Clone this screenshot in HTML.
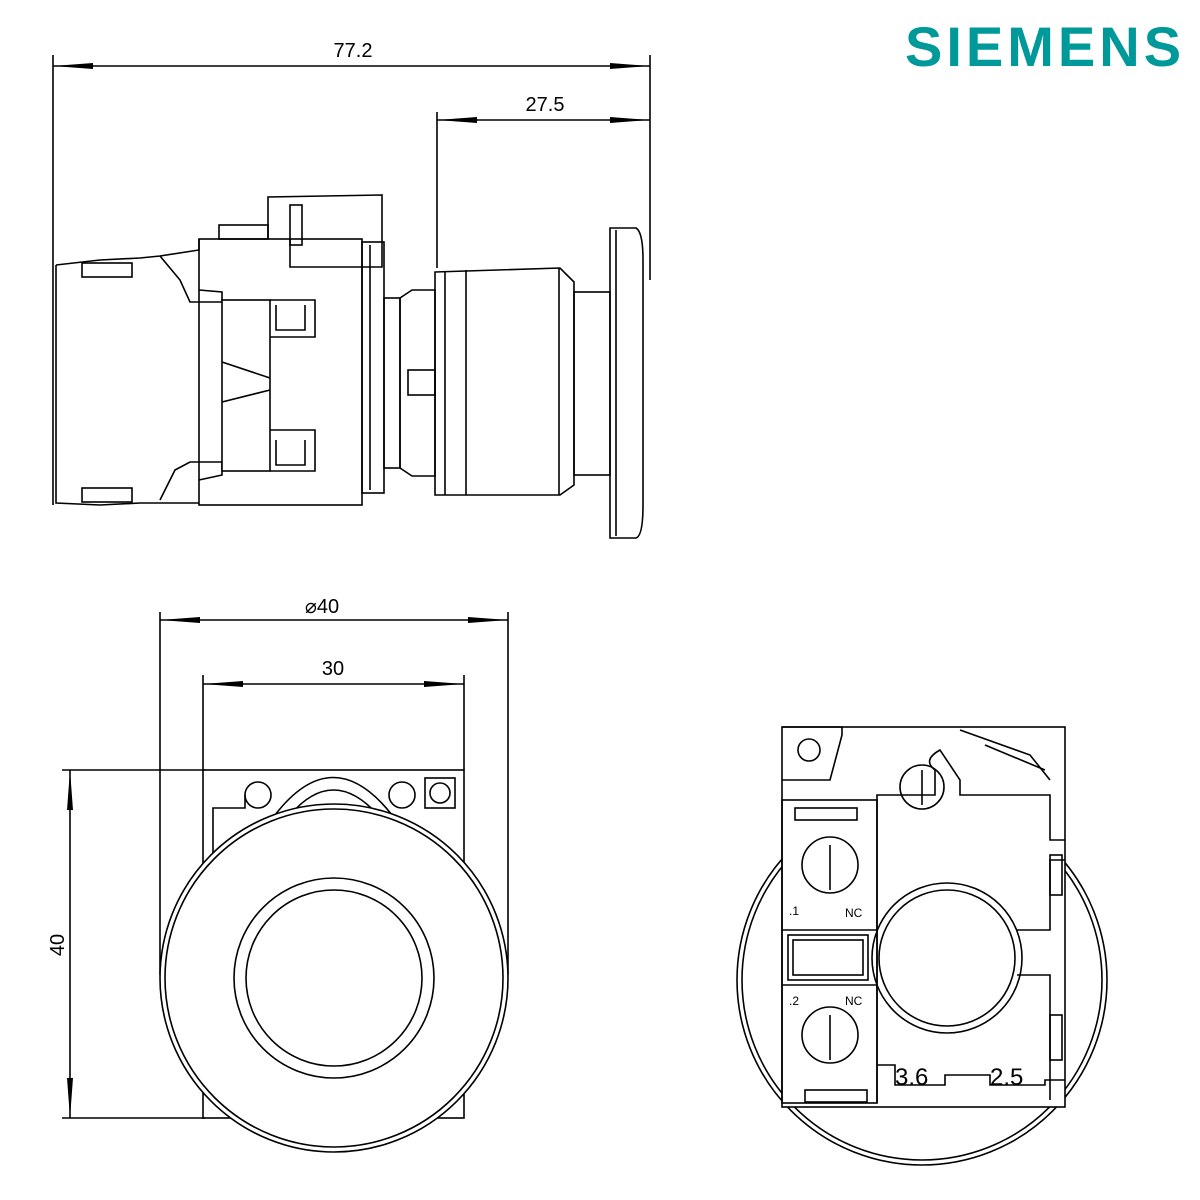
<!DOCTYPE html>
<html><head><meta charset="utf-8"><style>
html,body{margin:0;padding:0;background:#fff;width:1200px;height:1200px;overflow:hidden}
svg{display:block}
</style></head><body>
<svg width="1200" height="1200" viewBox="0 0 1200 1200" xmlns="http://www.w3.org/2000/svg">
<defs>
<marker id="a" viewBox="0 0 10 10" refX="10" refY="5" markerWidth="40" markerHeight="10" markerUnits="userSpaceOnUse" orient="auto-start-reverse" preserveAspectRatio="none"><path d="M0,2 L10,5 L0,8 Z" fill="#000"/></marker>
</defs>
<text x="905" y="66" font-family="Liberation Sans, sans-serif" font-weight="bold" font-size="56" fill="#009999" letter-spacing="4">SIEMENS</text>

<g stroke="#000" stroke-width="1.6" fill="none">
<line x1="53" y1="55" x2="53" y2="505"/>
<line x1="650" y1="55" x2="650" y2="280"/>
<line x1="437" y1="112" x2="437" y2="268"/>
<line x1="53" y1="66" x2="650" y2="66" marker-start="url(#a)" marker-end="url(#a)"/>
<line x1="437" y1="120" x2="650" y2="120" marker-start="url(#a)" marker-end="url(#a)"/>

<path d="M56,265 L100,260 L140,258 L160,256 L199,250 L199,239"/>
<path d="M56,265 L56,503 L100,505 L140,503 L199,503"/>
<rect x="82" y="263" width="50" height="14"/>
<rect x="82" y="488" width="50" height="14"/>
<path d="M160,256 L180,280 L190,302 L222,302 L222,292 L199,290"/>
<path d="M160,500 L175,470 L190,462 L222,462 L222,475 L199,480"/>
<rect x="199" y="239" width="163" height="266"/>
<rect x="219" y="225" width="49" height="14"/>
<path d="M268,239 L268,197 L382,195 L382,267 L290,267 L290,239"/>
<rect x="290" y="205" width="12" height="40"/>
<rect x="222" y="300" width="48" height="171" fill="#fff"/>
<path d="M270,300 L315,300 L315,337 L270,337"/>
<path d="M270,430 L315,430 L315,471 L270,471"/>
<path d="M276,305 L276,330 L305,330 L305,305"/>
<path d="M276,440 L276,465 L305,465 L305,440"/>
<path d="M222,362 L270,378 M222,402 L270,390"/>
<rect x="362" y="242" width="22" height="251"/>
<line x1="370" y1="245" x2="370" y2="490"/>
<rect x="384" y="298" width="16" height="170"/>
<path d="M400,298 L412,290 L435,290 L435,476 L412,476 L400,468 Z"/>
<rect x="408" y="370" width="27" height="25"/>
<path d="M435,272 L560,268 L574,282 L574,485 L560,495 L435,495 Z"/>
<line x1="445" y1="272" x2="445" y2="495"/>
<line x1="466" y1="270" x2="466" y2="495"/>
<line x1="559" y1="268" x2="559" y2="495"/>
<rect x="574" y="292" width="36" height="183"/>
<path d="M610,228 L636,228 Q643,232 643,260 L643,505 Q643,536 636,538 L610,538 Z"/>
<line x1="616" y1="230" x2="616" y2="536"/>

<line x1="160" y1="612" x2="160" y2="975"/>
<line x1="508" y1="612" x2="508" y2="975"/>
<line x1="203" y1="675" x2="203" y2="770"/>
<line x1="464" y1="675" x2="464" y2="770"/>
<line x1="160" y1="620" x2="508" y2="620" marker-start="url(#a)" marker-end="url(#a)"/>
<line x1="203" y1="684" x2="464" y2="684" marker-start="url(#a)" marker-end="url(#a)"/>
<line x1="62" y1="770" x2="205" y2="770"/>
<line x1="62" y1="1118" x2="205" y2="1118"/>
<line x1="70" y1="770" x2="70" y2="1118" marker-start="url(#a)" marker-end="url(#a)"/>

<rect x="203" y="770" width="261" height="348"/>
<circle cx="258" cy="795" r="13"/>
<circle cx="402" cy="795" r="13"/>
<rect x="425" y="778" width="30" height="30"/>
<circle cx="440" cy="793" r="10"/>
<path d="M275,815 Q333,740 392,815"/>
<path d="M290,815 Q333,765 378,815"/>
<path d="M213,860 L213,808 L245,808 L245,795"/>
<circle cx="334" cy="978" r="174" fill="#fff"/>
<circle cx="334" cy="978" r="169"/>
<circle cx="334" cy="978" r="100"/>
<circle cx="334" cy="978" r="88"/>

<circle cx="922" cy="980" r="185"/>
<circle cx="922" cy="980" r="180"/>
<rect x="782" y="727" width="283" height="380" fill="#fff"/>
<path d="M782,727 L842,727 L842,735 L830,780 L782,780"/>
<circle cx="809" cy="750" r="11"/>
<path d="M877,800 L877,1103"/>
<rect x="782" y="800" width="95" height="303"/>
<rect x="795" y="808" width="62" height="12"/>
<rect x="805" y="1090" width="62" height="12"/>
<rect x="788" y="935" width="80" height="45"/>
<rect x="793" y="940" width="70" height="35"/>
<circle cx="830" cy="865" r="28"/>
<circle cx="830" cy="1035" r="28"/>
<line x1="830" y1="845" x2="830" y2="890"/>
<line x1="830" y1="1015" x2="830" y2="1060"/>
<line x1="782" y1="930" x2="877" y2="930"/>
<line x1="782" y1="985" x2="877" y2="985"/>
<path d="M877,800 L877,795 L935,795 L935,770 Q922,760 940,750 L960,780 L960,795 L1050,795 L1050,840 L1065,840"/>
<circle cx="922" cy="787" r="22"/>
<line x1="922" y1="770" x2="922" y2="805"/>
<path d="M960,730 L1030,755 L1050,780"/>
<path d="M985,745 L1045,770"/>
<circle cx="947" cy="958" r="75"/>
<circle cx="947" cy="958" r="68"/>
<path d="M1017,930 L1050,930 L1050,860 L1065,860"/>
<path d="M1017,975 L1050,975 L1050,1100"/>
<rect x="1050" y="855" width="12" height="40"/>
<rect x="1050" y="1015" width="12" height="45"/>
<path d="M877,1065 L895,1065 L895,1085 L945,1085 L945,1075 L990,1075 L990,1085 L1045,1085 L1045,1080 L1065,1080"/>
</g>

<g font-family="Liberation Sans, sans-serif" fill="#000">
<text x="353" y="57" font-size="20" text-anchor="middle">77.2</text>
<text x="545" y="111" font-size="20" text-anchor="middle">27.5</text>
<text x="322" y="613" font-size="20" text-anchor="middle">⌀40</text>
<text x="333" y="675" font-size="20" text-anchor="middle">30</text>
<text x="64" y="945" font-size="20" text-anchor="middle" transform="rotate(-90 64 945)">40</text>
<text x="789" y="915" font-size="12">.1</text>
<text x="789" y="1005" font-size="12">.2</text>
<text x="845" y="917" font-size="12">NC</text>
<text x="845" y="1005" font-size="12">NC</text>
<text x="895" y="1085" font-size="24">3.6</text>
<text x="990" y="1085" font-size="24">2.5</text>
</g>
</svg>
</body></html>
